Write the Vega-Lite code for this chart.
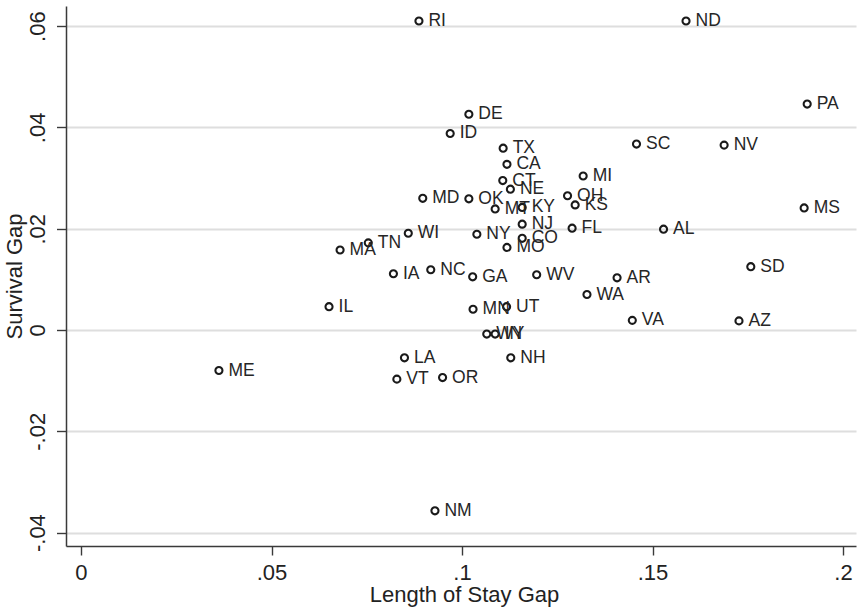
{
  "$schema": "https://vega.github.io/schema/vega-lite/v6.json",
  "width": 790,
  "height": 540,
  "autosize": "none",
  "padding": {"left": 66, "top": 6, "right": 1, "bottom": 64},
  "background": "white",
  "config": {
    "view": {"stroke": null},
    "font": "Liberation Sans"
  },
  "data": {
    "values": [
      {"state": "RI", "los": 0.0887, "surv": 0.0610},
      {"state": "ND", "los": 0.1588, "surv": 0.0610},
      {"state": "PA", "los": 0.1906, "surv": 0.0446},
      {"state": "DE", "los": 0.1018, "surv": 0.0426},
      {"state": "ID", "los": 0.0969, "surv": 0.0388},
      {"state": "TX", "los": 0.1108, "surv": 0.0359},
      {"state": "SC", "los": 0.1458, "surv": 0.0367},
      {"state": "NV", "los": 0.1688, "surv": 0.0365},
      {"state": "CA", "los": 0.1118, "surv": 0.0327},
      {"state": "CT", "los": 0.1107, "surv": 0.0295},
      {"state": "MI", "los": 0.1318, "surv": 0.0304},
      {"state": "NE", "los": 0.1127, "surv": 0.0278},
      {"state": "MD", "los": 0.0897, "surv": 0.0260},
      {"state": "OK", "los": 0.1018, "surv": 0.0259},
      {"state": "OH", "los": 0.1277, "surv": 0.0265},
      {"state": "MT", "los": 0.1087, "surv": 0.0239},
      {"state": "KY", "los": 0.1158, "surv": 0.0242},
      {"state": "KS", "los": 0.1297, "surv": 0.0247},
      {"state": "MS", "los": 0.1898, "surv": 0.0241},
      {"state": "NJ", "los": 0.1158, "surv": 0.0209},
      {"state": "FL", "los": 0.1289, "surv": 0.0201},
      {"state": "AL", "los": 0.1529, "surv": 0.0199},
      {"state": "WI", "los": 0.0859, "surv": 0.0191},
      {"state": "NY", "los": 0.1039, "surv": 0.0189},
      {"state": "TN", "los": 0.0754, "surv": 0.0172},
      {"state": "CO", "los": 0.1158, "surv": 0.0181},
      {"state": "MA", "los": 0.0680, "surv": 0.0158},
      {"state": "MO", "los": 0.1118, "surv": 0.0163},
      {"state": "SD", "los": 0.1758, "surv": 0.0125},
      {"state": "IA", "los": 0.0820, "surv": 0.0111},
      {"state": "NC", "los": 0.0918, "surv": 0.0119},
      {"state": "GA", "los": 0.1028, "surv": 0.0105},
      {"state": "WV", "los": 0.1196, "surv": 0.0109},
      {"state": "AR", "los": 0.1407, "surv": 0.0103},
      {"state": "WA", "los": 0.1328, "surv": 0.0070},
      {"state": "IL", "los": 0.0651, "surv": 0.0046},
      {"state": "MN", "los": 0.1029, "surv": 0.0041},
      {"state": "UT", "los": 0.1117, "surv": 0.0046},
      {"state": "VA", "los": 0.1447, "surv": 0.0019},
      {"state": "AZ", "los": 0.1727, "surv": 0.0018},
      {"state": "WY", "los": 0.1065, "surv": -0.0008},
      {"state": "IN", "los": 0.1087, "surv": -0.0008},
      {"state": "LA", "los": 0.0849, "surv": -0.0055},
      {"state": "NH", "los": 0.1128, "surv": -0.0055},
      {"state": "ME", "los": 0.0362, "surv": -0.0080},
      {"state": "VT", "los": 0.0829, "surv": -0.0097},
      {"state": "OR", "los": 0.0949, "surv": -0.0094},
      {"state": "NM", "los": 0.0929, "surv": -0.0357}
    ]
  },
  "encoding": {
    "x": {
      "field": "los",
      "type": "quantitative",
      "scale": {"domain": [-0.003937, 0.203412], "nice": false, "zero": false},
      "axis": {
        "title": "Length of Stay Gap",
        "values": [0, 0.05, 0.1, 0.15, 0.2],
        "labelExpr": "datum.value == 0 ? '0' : (datum.value < 0 ? '-' : '') + replace(toString(abs(datum.value)), '0.', '.')",
        "grid": false,
        "domainColor": "#3a3a3a",
        "domainWidth": 1.5,
        "tickColor": "#3a3a3a",
        "tickWidth": 1.4,
        "tickSize": 9,
        "labelFontSize": 22,
        "labelColor": "#222222",
        "labelPadding": 7,
        "labelFlush": false,
        "titleFontSize": 22,
        "titleFontWeight": "normal",
        "titleColor": "#222222",
        "titleBaseline": "alphabetic",
        "titleAlign": "center",
        "titleX": 398,
        "titleY": 55
      }
    },
    "y": {
      "field": "surv",
      "type": "quantitative",
      "scale": {"domain": [-0.042646, 0.063966], "nice": false, "zero": false},
      "axis": {
        "title": "Survival Gap",
        "values": [-0.04, -0.02, 0, 0.02, 0.04, 0.06],
        "labelExpr": "datum.value == 0 ? '0' : (datum.value < 0 ? '-' : '') + replace(toString(abs(datum.value)), '0.', '.')",
        "grid": true,
        "gridColor": "#dedede",
        "gridWidth": 1.8,
        "domainColor": "#3a3a3a",
        "domainWidth": 1.5,
        "tickColor": "#3a3a3a",
        "tickWidth": 1.4,
        "tickSize": 9.5,
        "labelFontSize": 22,
        "labelColor": "#222222",
        "labelAngle": -90,
        "labelAlign": "center",
        "labelBaseline": "alphabetic",
        "labelPadding": 12,
        "labelFlush": false,
        "titleFontSize": 22,
        "titleFontWeight": "normal",
        "titleColor": "#222222",
        "titleAngle": -90,
        "titleBaseline": "alphabetic",
        "titleAlign": "center",
        "titleX": -45,
        "titleY": 270
      }
    }
  },
  "layer": [
    {
      "mark": {"type": "point", "shape": "circle", "filled": false, "stroke": "#1a1a1a", "strokeWidth": 2.1, "size": 50, "opacity": 1}
    },
    {
      "mark": {"type": "text", "align": "left", "baseline": "middle", "dx": 9.5, "fontSize": 17.5, "color": "#262626"},
      "encoding": {"text": {"field": "state", "type": "nominal"}}
    }
  ]
}
